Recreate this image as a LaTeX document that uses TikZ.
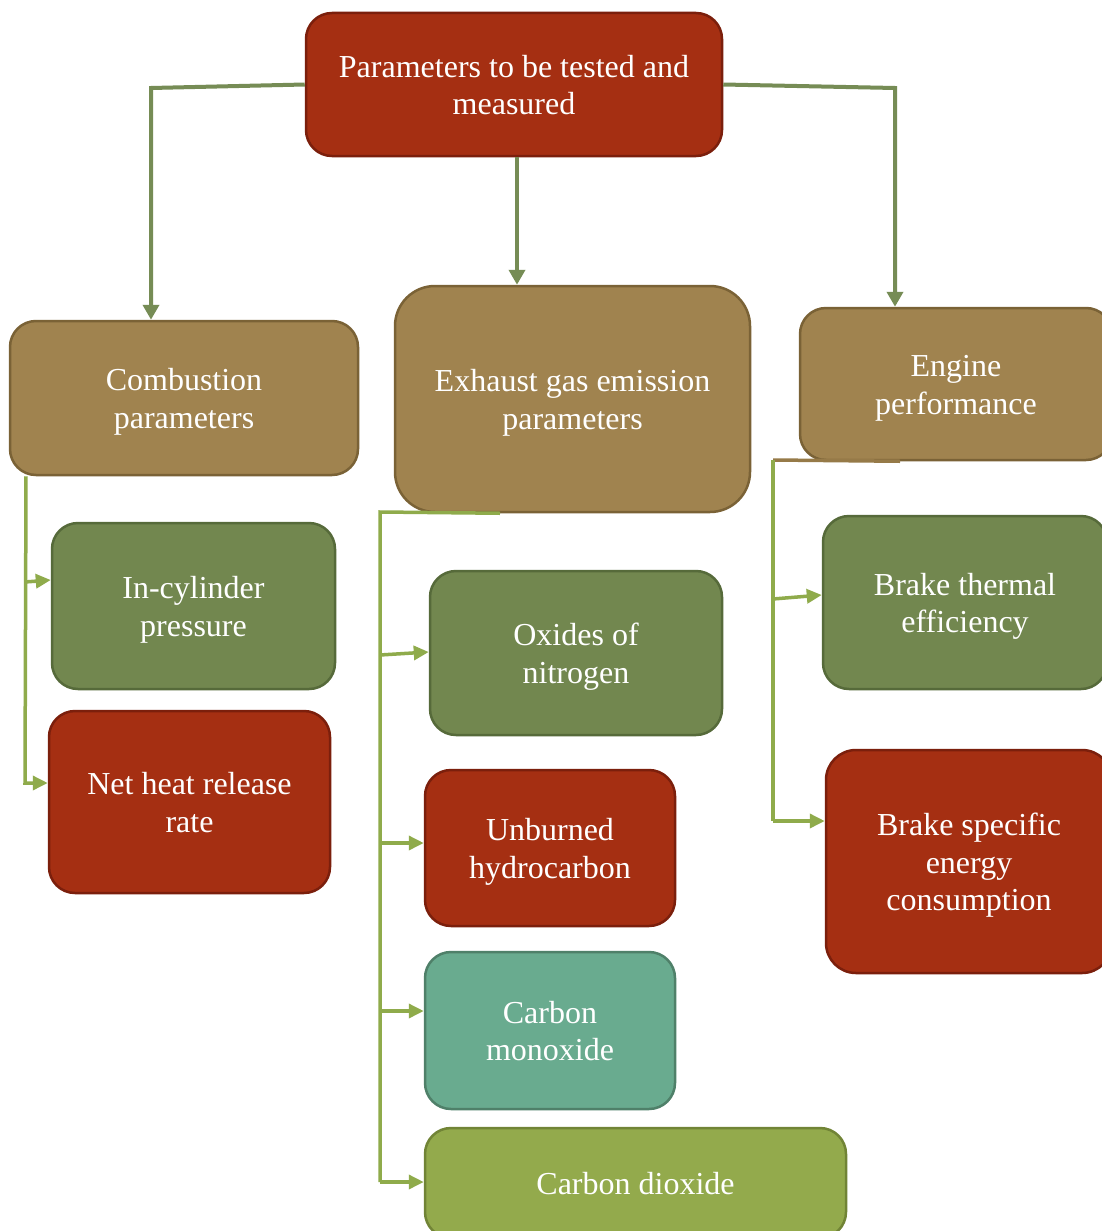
\documentclass[tikz,border=0pt]{standalone}
\usepackage{fontspec}
\setmainfont{Liberation Serif}
\usetikzlibrary{arrows.meta,calc}
\definecolor{redf}{HTML}{A52F12}
\definecolor{redd}{HTML}{7B1F0C}
\definecolor{tanf}{HTML}{A0834F}
\definecolor{tand}{HTML}{7A6236}
\definecolor{grnf}{HTML}{72874F}
\definecolor{grnd}{HTML}{566A3A}
\definecolor{teaf}{HTML}{69AB8F}
\definecolor{tead}{HTML}{4F8069}
\definecolor{olvf}{HTML}{93AA4C}
\definecolor{olvd}{HTML}{718436}
\definecolor{darkc}{HTML}{768C55}
\definecolor{lightc}{HTML}{8FAB4B}
\definecolor{tanline}{HTML}{967A48}
\newcommand{\lbrk}{\rule[-11.25pt]{0pt}{11.25pt}\\\rule{0pt}{26.25pt}}
\newcommand{\topfix}{\rule{0pt}{30.25pt}}
\newcommand{\botfix}{\rule[-7.25pt]{0pt}{7.25pt}}
\begin{document}
\begin{tikzpicture}[x=1pt,y=-1pt,
  box/.style={rounded corners=26pt, line width=2.5pt, text=white, align=center,
    font=\fontsize{32}{37.5}\selectfont, inner sep=0pt},
  redbox/.style={box, fill=redf, draw=redd},
  tanbox/.style={box, fill=tanf, draw=tand},
  grnbox/.style={box, fill=grnf, draw=grnd},
  teabox/.style={box, fill=teaf, draw=tead},
  olvbox/.style={box, fill=olvf, draw=olvd},
  darkarr/.style={draw=darkc, line width=4pt, -{Triangle[length=15pt,width=16pt]}},
  lightarr/.style={draw=lightc, line width=3.5pt, -{Triangle[length=15pt,width=14pt]}},
  lightln/.style={draw=lightc, line width=3.5pt}]
\useasboundingbox (0,0) rectangle (1102,1231);
\fill[white] (0,0) rectangle (1102,1231);
\clip (0,0) rectangle (1102,1231);

% boxes
\node[redbox, minimum width=416pt, minimum height=143pt] (top) at (514,84.5) {\topfix Parameters to be tested and\lbrk measured\botfix};
\node[tanbox, minimum width=348pt, minimum height=154pt] (comb) at (184,398) {\topfix Combustion\lbrk parameters\botfix};
\node[tanbox, rounded corners=40pt, minimum width=355pt, minimum height=226pt] (exh) at (572.5,399) {\topfix Exhaust gas emission\lbrk parameters\botfix};
\node[tanbox, minimum width=312pt, minimum height=152pt] (eng) at (956,384) {\topfix Engine\lbrk performance\botfix};
\node[grnbox, minimum width=283pt, minimum height=166pt] (incyl) at (193.5,606) {\topfix In-cylinder\lbrk pressure\botfix};
\node[redbox, minimum width=281pt, minimum height=182pt] (net) at (189.5,802) {\topfix Net heat release\lbrk rate\botfix};
\node[grnbox, minimum width=292pt, minimum height=164pt] (nox) at (576,653) {\topfix Oxides of\lbrk nitrogen\botfix};
\node[redbox, minimum width=250pt, minimum height=156pt] (uhc) at (550,848) {\topfix Unburned\lbrk hydrocarbon\botfix};
\node[teabox, minimum width=250pt, minimum height=157pt] (co) at (550,1030.5) {\topfix Carbon\lbrk monoxide\botfix};
\node[olvbox, minimum width=421pt, minimum height=110pt] (co2) at (635.5,1183) {\topfix Carbon dioxide\botfix};
\node[grnbox, minimum width=284pt, minimum height=173pt] (bte) at (965,602.5) {\topfix Brake thermal\lbrk efficiency\botfix};
\node[redbox, rounded corners=30pt, minimum width=286pt, minimum height=223pt] (bsec) at (969,861.5) {\topfix Brake specific\lbrk energy\lbrk consumption\botfix};

% coordinates
\coordinate (lx) at (151,88);
\coordinate (mx) at (517,0);
\coordinate (rx) at (895,88);
\coordinate (ca) at (26,0);
\coordinate (cb) at (25,582);
\coordinate (cc) at (25,783);
\coordinate (ea) at (500,0);
\coordinate (eb) at (380,512);
\coordinate (e1) at (380,655);
\coordinate (e2) at (380,843);
\coordinate (e3) at (380,1011);
\coordinate (e4) at (380,1182);
\coordinate (ga) at (900,0);
\coordinate (gb) at (773,460);
\coordinate (g1) at (773,599);
\coordinate (g2) at (773,821);

% top-level connectors
\draw[darkarr] (top.west) -- (lx) -- (lx |- comb.north);
\draw[darkarr] (top.south -| mx) -- (mx |- exh.north);
\draw[darkarr] (top.east) -- (rx) -- (rx |- eng.north);

% combustion bracket
\draw[lightarr] (comb.south -| ca) -- (cc) -- (cc -| net.west);
\draw[lightarr] (cb) -- ($(cb -| incyl.west)+(0,-2)$);

% exhaust bracket
\draw[lightln] (exh.south -| ea) -- (eb) -- (e4);
\draw[lightarr] (e1) -- ($(e1 -| nox.west)+(0,-3)$);
\draw[lightarr] (e2) -- (e2 -| uhc.west);
\draw[lightarr] (e3) -- (e3 -| co.west);
\draw[lightarr] (e4) -- (e4 -| co2.west);

% engine bracket
\draw[draw=tanline, line width=3.5pt] (eng.south -| ga) -- (gb);
\draw[lightln] (gb) -- (g2);
\draw[lightarr] (g1) -- ($(g1 -| bte.west)+(0,-4)$);
\draw[lightarr] (g2) -- (g2 -| bsec.west);
\end{tikzpicture}
\end{document}
